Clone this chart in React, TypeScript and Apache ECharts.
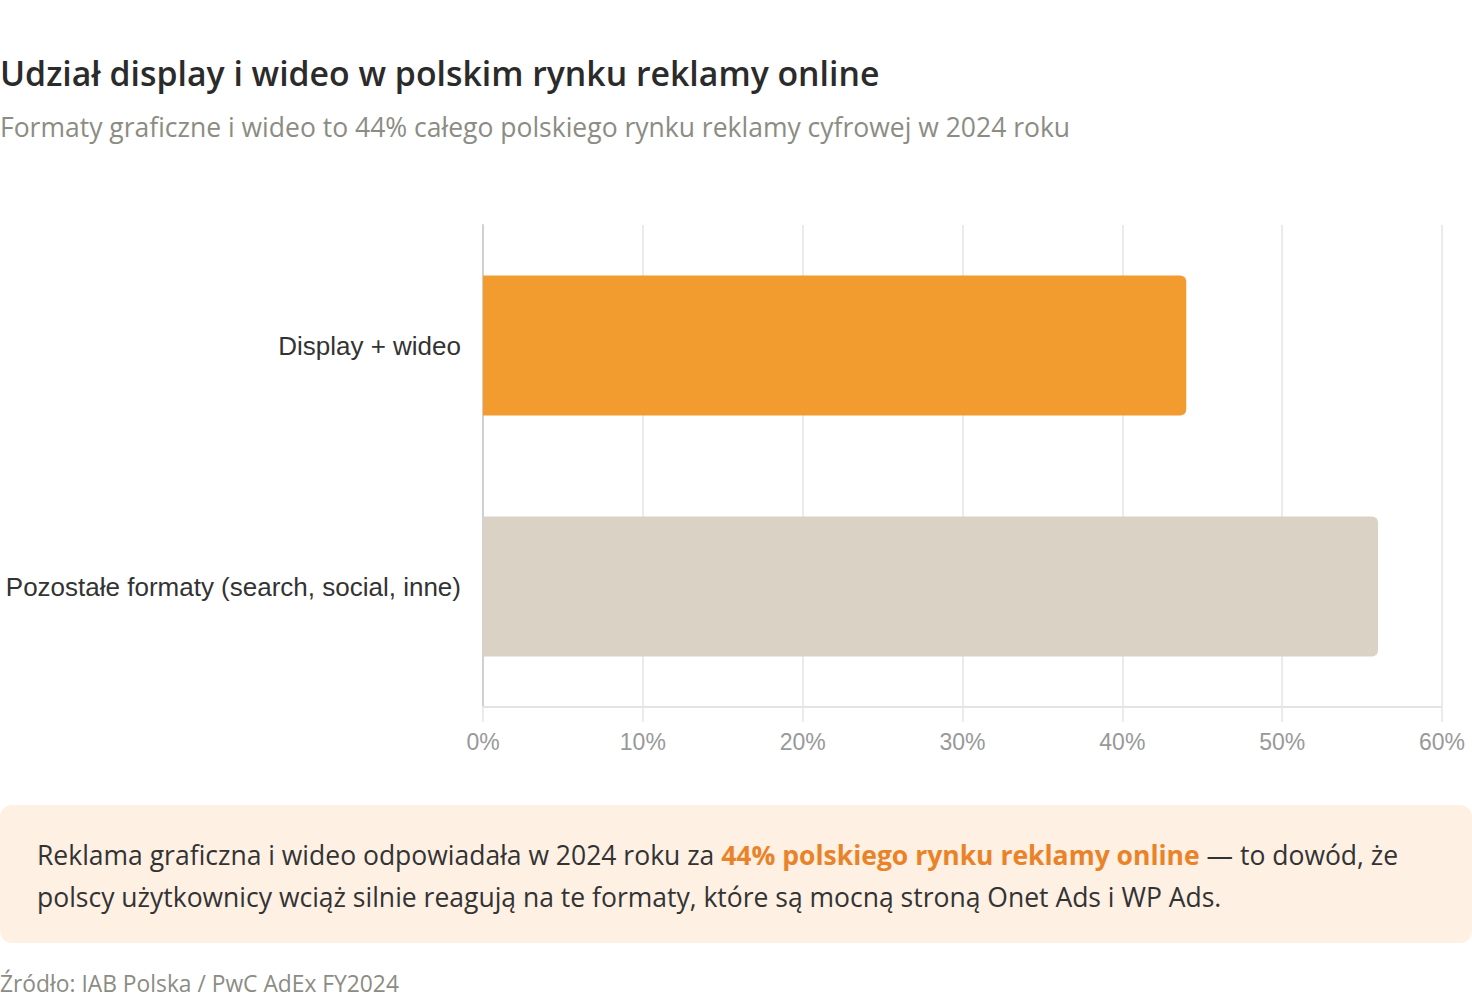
import React, { useEffect, useRef } from "react";
import * as echarts from "echarts";

const categories = ["Display + wideo", "Pozostałe formaty (search, social, inne)"];
const values = [44, 56];
const barColors = ["#f29c30", "#dad2c5"];
const xTicks = { min: 0, max: 60, interval: 10 };

const titleText = "Udział display i wideo w polskim rynku reklamy online";
const subtitleText = "Formaty graficzne i wideo to 44% całego polskiego rynku reklamy cyfrowej w 2024 roku";
const calloutLine1a = "Reklama graficzna i wideo odpowiadała w 2024 roku za ";
const calloutLine1b = "44% polskiego rynku reklamy online";
const calloutLine1c = " — to dowód, że";
const calloutLine2 = "polscy użytkownicy wciąż silnie reagują na te formaty, które są mocną stroną Onet Ads i WP Ads.";
const sourceText = "Źródło: IAB Polska / PwC AdEx FY2024";

const SANS = "'Open Sans', 'Noto Sans', sans-serif";
const AXIS = "'Liberation Sans', Arial, sans-serif";

export default function App() {
  const ref = useRef<HTMLDivElement>(null);
  useEffect(() => {
    if (!ref.current) return;
    const chart = echarts.init(ref.current, null, { renderer: "svg" });
    chart.setOption({
      animation: false,
      backgroundColor: "#ffffff",
      grid: { left: 483, right: 30, top: 225, bottom: 291, containLabel: false },
      xAxis: {
        type: "value",
        min: xTicks.min,
        max: xTicks.max,
        interval: xTicks.interval,
        axisLine: { show: true, lineStyle: { color: "#e3e3e3", width: 2 } },
        axisTick: { show: true, length: 15, lineStyle: { color: "#ebebeb", width: 2 } },
        splitLine: { show: true, lineStyle: { color: "#ebebeb", width: 2 } },
        axisLabel: {
          formatter: "{value}%",
          color: "#999999",
          fontSize: 23,
          fontFamily: AXIS,
          margin: 23,
        },
      },
      yAxis: {
        type: "category",
        inverse: true,
        data: categories,
        axisLine: { show: true, lineStyle: { color: "#d0d0d0", width: 2 } },
        axisTick: { show: false },
        axisLabel: { color: "#333333", fontSize: 26, fontFamily: AXIS, margin: 22 },
      },
      series: [
        {
          type: "bar",
          barWidth: 140,
          data: values.map((v, i) => ({
            value: v,
            itemStyle: { color: barColors[i], borderRadius: [0, 6, 6, 0] },
          })),
        },
      ],
      graphic: [
        {
          type: "text",
          x: 0,
          y: 73,
          style: { text: titleText, fontSize: 33.8, fontWeight: 600, fill: "#2b2b2b", fontFamily: SANS, verticalAlign: "middle" },
        },
        {
          type: "text",
          x: 0,
          y: 127,
          style: { text: subtitleText, fontSize: 26.5, fill: "#8c8c84", fontFamily: SANS, verticalAlign: "middle" },
        },
        {
          type: "rect",
          shape: { x: 0, y: 805, width: 1472, height: 138, r: 12 },
          style: { fill: "#fef0e3" },
        },
        {
          type: "text",
          x: 37,
          y: 855,
          style: {
            text: "{a|" + calloutLine1a + "}{b|" + calloutLine1b + "}{a|" + calloutLine1c + "}",
            verticalAlign: "middle",
            rich: {
              a: { fontSize: 26.5, fill: "#333333", fontFamily: SANS },
              b: { fontSize: 26.5, fill: "#e9832a", fontWeight: 700, fontFamily: SANS },
            },
          },
        },
        {
          type: "text",
          x: 37,
          y: 897,
          style: { text: calloutLine2, fontSize: 26.5, fill: "#333333", fontFamily: SANS, verticalAlign: "middle" },
        },
        {
          type: "text",
          x: 0,
          y: 983,
          style: { text: sourceText, fontSize: 22.8, fill: "#8c8c84", fontFamily: SANS, verticalAlign: "middle" },
        },
      ],
    });
    return () => chart.dispose();
  }, []);
  return (
    <div
      ref={ref}
      style={{ position: "absolute", left: 0, top: 0, width: 1472, height: 998 }}
    />
  );
}
